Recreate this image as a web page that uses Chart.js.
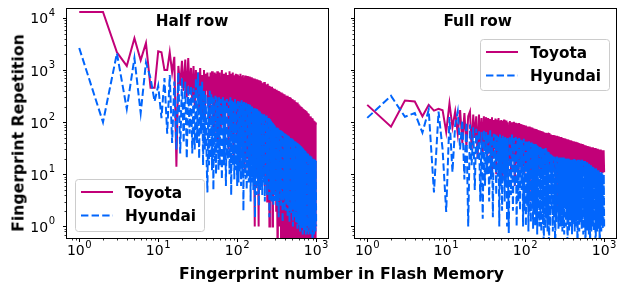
<!DOCTYPE html>
<html>
<head>
<meta charset="utf-8">
<script src="https://cdn.jsdelivr.net/npm/chart.js"></script>
<style>
  body { margin: 0; background: #fff; font-family: "DejaVu Sans", sans-serif; }
  #figure { position: relative; width: 624px; height: 287px; overflow: hidden; }
  canvas { position: absolute; top: 0; }
  .axis-title { position: absolute; font-weight: bold; font-size: 15.7px; white-space: nowrap; color: #000; }
  #xtitle { left: 341.5px; top: 273px; transform: translate(-50%, -50%); }
  #ytitle { left: 18px; top: 133px; transform: translate(-50%, -50%) rotate(-90deg); }
</style>
</head>
<body>
<div id="figure">
  <canvas id="half" width="330" height="287" style="left:0"></canvas>
  <canvas id="full" width="294" height="287" style="left:330px"></canvas>
  <div class="axis-title" id="ytitle">Fingerprint Repetition</div>
  <div class="axis-title" id="xtitle">Fingerprint number in Flash Memory</div>
</div>
<script>
// fingerprint index (sampled, shared by both panels)
const fingerprintNumbers = [
  1,2,3,4,5,6,7,8,9,10,11,12,13,14,15,16,17,18,19,20,21,22,23,24,25,26,27,28,29,30,
  31,32,33,34,35,36,37,38,39,40,41,42,43,44,45,46,47,48,49,50,51,52,53,54,55,56,57,58,59,60,
  62,64,66,68,70,72,74,76,78,80,82,84,86,88,90,92,94,96,98,100,
  102,104,106,108,110,112,114,116,118,120,122,124,126,128,130,132,134,136,138,140,142,144,146,148,150,
  152,154,156,158,160,162,164,166,168,170,172,174,176,178,180,182,184,186,188,190,192,194,196,198,200,
  204,208,212,216,220,224,228,232,236,240,244,248,252,256,260,264,268,272,276,280,284,288,292,296,300,
  304,308,312,316,320,324,328,332,336,340,344,348,352,356,360,364,368,372,376,380,384,388,392,396,400,
  406,412,418,424,430,436,442,448,454,460,466,472,478,484,490,496,502,508,514,520,526,532,538,544,550,
  556,562,568,574,580,586,592,598,604,610,616,622,628,634,640,646,652,658,664,670,676,682,688,694,700,
  710,720,730,740,750,760,770,780,790,800,810,820,830,840,850,860,870,880,890,900,910,920,930,940,950,
  960,970,980,990,1000
];

// repetitions; 0.1 stands for "never repeated" (drops off the log axis)
const toyotaHalf = [
  13000,13000,2200,1200,4100,1550,3300,460,460,2300,2200,1000,1000,2200,900,1800,14,1200,500,1500,400,1600,300,1700,350,1100,250,1200,200,1000,
  300,900,180,1100,250,800,150,1000,120,850,400,900,200,750,90,900,300,950,150,800,60,900,250,850,100,950,40,800,200,900,
  70,1000,120,850,40,900,150,800,30,950,100,850,50,900,20,800,120,850,40,800,
  820,40,780,15,850,70,760,25,800,50,720,12,790,60,740,20,770,45,700,10,750,35,690,70,730,
  18,680,40,700,12,650,30,690,1,640,25,670,9,620,40,650,15,600,1,640,22,590,8,620,30,
  580,10,560,25,590,6,540,18,520,3,545,14,500,1,490,20,470,8,480,1,450,12,430,5,440,
  15,410,2,420,9,400,0.1,395,6,380,1,385,11,365,0.1,370,4,350,0.1,355,7,340,0.1,345,2,
  325,0.1,315,2,320,0.1,300,0.1,305,1,290,0.1,295,0.1,280,0.1,275,3,260,0.1,265,0.1,250,0.1,245,
  1,235,0.1,240,0.1,225,0.1,220,0.1,210,2,205,0.1,200,0.1,195,0.1,190,1,185,0.1,180,0.1,178,0.1,
  172,0.1,165,0.1,160,0.1,150,0.1,145,0.1,140,0.1,130,0.1,128,0.1,120,0.1,118,0.1,112,0.1,108,0.1,104,
  0.1,100,0.1,96,90
];

const hyundaiHalf = [
  2650,100,2100,180,1700,150,1400,700,250,500,120,700,60,800,40,600,30,900,25,700,40,600,20,500,60,500,25,450,30,700,
  40,900,20,500,60,600,15,400,30,350,20,4.5,300,15,400,20,350,12,300,5,280,18,320,10,300,25,250,12,300,15,
  280,8,300,15,260,6,280,20,250,10,300,4,260,15,250,8,280,12,240,6,
  270,7,250,11,240,6,265,9,230,2,245,13,220,8,235,5,210,10,225,7,200,8,215,3,190,
  12,200,7,180,5,195,9,175,1.5,185,8,165,4,180,10,160,6,170,2.5,150,8,160,5,145,7,
  150,4,140,7,145,3,130,6,135,4,120,8,125,1.5,115,5,110,3,100,6,95,2.5,90,4,85,
  3,82,5,80,2.5,78,4,76,1.5,74,3.5,72,5,70,2.5,68,4,66,1.2,64,3,62,4.5,61,2,
  60,2,58,3,56,1.5,55,2.5,53,1.2,52,3,50,1.8,49,2.2,47,1,46,2.5,44,1.5,43,2,42,
  1.2,41,2,40,0.9,39,1.6,38,1,37,1.4,36,0.8,35,1.2,34,0.9,33,1.3,32,0.7,31,1,30,0.8,
  29,0.9,28,0.7,27,1,26,0.8,25,0.7,24,1,23,0.8,22,0.7,22,0.9,21,0.1,20,0.8,20,0.7,19,
  0.9,19,0.8,18,1
];

const toyotaFull = [
  215,82,260,250,130,215,167,180,170,65,230,80,160,60,170,40,150,35,130,160,30,140,50,130,20,140,40,120,25,130,
  30,125,15,120,25,115,12,125,20,110,30,118,10,112,22,120,15,108,25,110,8,105,20,112,14,104,28,108,12,100,
  18,105,12,100,20,102,6,98,16,95,10,96,18,92,12,90,15,88,10,86,
  14,84,17,82,12,83,3,80,15,79,11,78,16,76,13,75,18,74,12,73,15,71,10,70,14,
  69,17,68,12,67,15,66,11,65,16,64,10,63,14,63,12,62,15,61,11,61,14,60,12,60,
  59,13,58,15,57,11,57,14,56,12,55,2,55,14,54,11,53,15,52,12,52,14,51,11,50,
  13,49,15,49,12,48,14,47,11,47,13,46,15,46,12,45,14,45,11,44,13,44,12,43,14,
  43,12,42,14,42,11,41,13,41,12,40,14,40,11,39,13,39,12,38,14,38,11,37,13,37,
  12,36,14,36,11,35,13,35,12,35,13,34,11,34,13,34,12,34,14,33,11,33,13,33,12,
  33,12,32,11,32,13,32,12,31,11,31,13,31,12,30,11,30,12,30,11,30,12,29,11,29,
  12,29,11,29,11
];

const hyundaiFull = [
  121,320,127,150,63,173,4.5,160,30,1.9,125,11,90,160,30,110,8,100,1,90,15,80,5,75,20,70,3,65,1.4,70,
  6,65,10,60,3,70,8,55,1.5,60,12,58,4,55,9,52,1,58,6,50,2,55,10,50,3,52,7,48,1,50,
  0.75,55,4,58,2,50,6,52,1,48,3,50,2,46,5,45,1,48,2,44,
  1,44,2.5,42,0.8,43,1.8,40,1.2,41,3,39,0.9,38,2,37,1,38,1.5,36,0.7,35,2.2,35,1.4,
  1,34,1.6,33,0.8,32,2.5,31,1.1,30,0.1,31,1.8,30,0.9,32,1.4,29,2,28,0.8,27,1.3,27,0.1,
  26,1,24,2,23,0.8,22,1.5,23,0.1,21,1.2,22,2.5,21,0.9,20,1.6,21,1,20,2,21,0.8,20,
  1.3,21,0.7,20,2.2,20,1,19,1.5,20,0.1,19,1.2,20,0.8,19,1.8,20,1,19,1.4,19,0.7,20,1.1,
  19,1.3,20,0.8,19,1.6,19,1,18,0.1,19,1.4,18,0.8,19,1.2,18,2,18,0.9,19,1.3,18,0.7,18,
  1.5,17,1,18,0.1,17,1.2,17,0.8,17,1.4,16,1,16,0.7,16,1.3,15,0.1,15,1.1,15,0.8,15,1.2,
  14,1,14,0.8,13,1.3,13,0.1,13,1,12,0.8,12,1.2,12,0.9,11,0.1,11,1,11,0.8,11,1.1,10,
  0.9,10,1,10,1
];

const seriesNames = ['Toyota', 'Hyundai'];
const seriesColors = ['#c20078', '#0165fc'];

const xTickValues = [0.8,0.9,1,2,3,4,5,6,7,8,9,10,20,30,40,50,60,70,80,90,100,200,300,400,500,600,700,800,900,1000];
const yTickValues = [0.7,0.8,0.9,1,2,3,4,5,6,7,8,9,10,20,30,40,50,60,70,80,90,
  100,200,300,400,500,600,700,800,900,1000,2000,3000,4000,5000,6000,7000,8000,9000,10000];
const decadeValues = [1, 10, 100, 1000, 10000];
const decadeExponents = ['0', '1', '2', '3', '4'];

const X_MIN = 0.708, X_MAX = 1413;
const Y_MIN = 0.616, Y_MAX = 14860;

[toyotaHalf, hyundaiHalf, toyotaFull, hyundaiFull].forEach((s, i) => {
  if (s.length !== fingerprintNumbers.length) throw new Error('series ' + i + ' has ' + s.length + ' values, expected ' + fingerprintNumbers.length);
});

function points(ys) {
  return fingerprintNumbers.map((x, i) => ({ x: x, y: ys[i] }));
}

// "10" with a raised exponent, like matplotlib's log tick labels
function drawPow(ctx, exp, x, baseline, align) {
  ctx.font = '14px "DejaVu Sans"';
  const wBase = ctx.measureText('10').width;
  ctx.font = '10px "DejaVu Sans"';
  const wExp = ctx.measureText(exp).width;
  const w = wBase + wExp + 0.5;
  let start = align === 'right' ? x - w : x - w / 2;
  ctx.textAlign = 'left';
  ctx.textBaseline = 'alphabetic';
  ctx.fillStyle = '#000';
  ctx.font = '14px "DejaVu Sans"';
  ctx.fillText('10', start, baseline);
  ctx.font = '10px "DejaVu Sans"';
  ctx.fillText(exp, start + wBase + 0.5, baseline - 7.5);
}

const axesDecor = {
  id: 'axesDecor',
  afterDraw(chart, args, o) {
    const ctx = chart.ctx, a = chart.chartArea;
    const xs = chart.scales.x, ys = chart.scales.y;
    ctx.save();
    ctx.strokeStyle = '#000';
    ctx.lineWidth = 1;
    ctx.strokeRect(a.left - 0.5, a.top - 0.5, a.right - a.left + 1, a.bottom - a.top + 1);

    xTickValues.forEach(v => {
      const px = Math.round(xs.getPixelForValue(v)) + 0.5;
      const major = decadeValues.includes(v);
      ctx.lineWidth = major ? 1 : 0.8;
      ctx.beginPath();
      ctx.moveTo(px, a.bottom);
      ctx.lineTo(px, a.bottom + (major ? 4 : 2.5));
      ctx.stroke();
    });
    yTickValues.forEach(v => {
      const py = Math.round(ys.getPixelForValue(v)) + 0.5;
      const major = decadeValues.includes(v);
      ctx.lineWidth = major ? 1 : 0.8;
      ctx.beginPath();
      ctx.moveTo(a.left, py);
      ctx.lineTo(a.left - (major ? 4 : 2.5), py);
      ctx.stroke();
    });

    decadeValues.forEach((v, i) => {
      if (v <= 1000) drawPow(ctx, decadeExponents[i], xs.getPixelForValue(v), a.bottom + 17, 'center');
      if (o.yLabels) drawPow(ctx, decadeExponents[i], a.left - 12, ys.getPixelForValue(v) + 5.5, 'right');
    });

    // panel title
    ctx.fillStyle = '#000';
    ctx.font = 'bold 15.3px "DejaVu Sans"';
    ctx.textAlign = 'center';
    ctx.textBaseline = 'alphabetic';
    ctx.fillText(o.title, o.titleX, 26);

    // legend
    const L = o.legend;
    ctx.beginPath();
    ctx.roundRect(L.x + 0.5, L.y + 0.5, L.w, L.h, 3);
    ctx.fillStyle = 'rgba(255,255,255,0.8)';
    ctx.fill();
    ctx.strokeStyle = '#cccccc';
    ctx.lineWidth = 1;
    ctx.stroke();
    seriesNames.forEach((name, i) => {
      const cy = L.y + 13 + i * 23.5;
      ctx.strokeStyle = seriesColors[i];
      ctx.lineWidth = 2;
      ctx.setLineDash(i === 1 ? [7.4, 3.2] : []);
      ctx.beginPath();
      ctx.moveTo(L.x + 6, cy);
      ctx.lineTo(L.x + 38, cy);
      ctx.stroke();
      ctx.setLineDash([]);
      ctx.fillStyle = '#000';
      ctx.font = 'bold 15.3px "DejaVu Sans"';
      ctx.textAlign = 'left';
      ctx.fillText(name, L.x + 50, cy + 5.5);
    });
    ctx.restore();
  }
};

function makePanel(canvasId, toyota, hyundai, o) {
  return new Chart(document.getElementById(canvasId), {
    type: 'scatter',
    data: {
      datasets: [
        { label: seriesNames[0], data: points(toyota), borderColor: seriesColors[0], borderWidth: 2,
          showLine: true, pointRadius: 0, order: 1 },
        { label: seriesNames[1], data: points(hyundai), borderColor: seriesColors[1], borderWidth: 2,
          borderDash: [7.4, 3.2], showLine: true, pointRadius: 0, order: 0 }
      ]
    },
    options: {
      responsive: false,
      animation: false,
      devicePixelRatio: 1,
      layout: { padding: { top: 9, right: o.padRight, left: 0, bottom: 0 } },
      plugins: { legend: { display: false }, tooltip: { enabled: false }, axesDecor: o },
      scales: {
        x: {
          type: 'logarithmic', min: X_MIN, max: X_MAX,
          grid: { display: false }, border: { display: false }, ticks: { display: false },
          afterBuildTicks: s => { s.ticks = xTickValues.map(v => ({ value: v })); },
          afterFit: s => { s.height = 49; }
        },
        y: {
          type: 'logarithmic', min: Y_MIN, max: Y_MAX,
          grid: { display: false }, border: { display: false }, ticks: { display: false },
          afterBuildTicks: s => { s.ticks = yTickValues.map(v => ({ value: v })); },
          afterFit: s => { s.width = o.yAxisWidth; }
        }
      }
    },
    plugins: [axesDecor]
  });
}

makePanel('half', toyotaHalf, hyundaiHalf, {
  title: 'Half row', titleX: 192, yLabels: true, yAxisWidth: 67, padRight: 2,
  legend: { x: 75, y: 179, w: 129, h: 52 }
});
makePanel('full', toyotaFull, hyundaiFull, {
  title: 'Full row', titleX: 147.7, yLabels: false, yAxisWidth: 25, padRight: 8,
  legend: { x: 150, y: 39, w: 129, h: 51 }
});
</script>
</body>
</html>
